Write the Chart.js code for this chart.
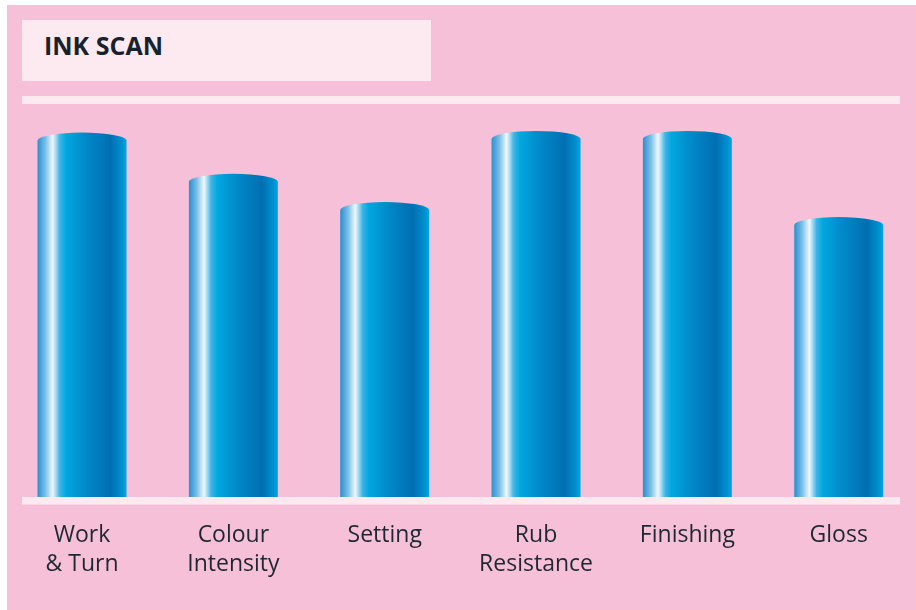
<!DOCTYPE html>
<html>
<head>
<meta charset="utf-8">
<script src="https://cdn.jsdelivr.net/npm/chart.js@4"></script>
<style>
  html, body { margin: 0; padding: 0; background: #ffffff; }
  #wrap { position: relative; width: 916px; height: 610px; overflow: hidden; }
  #panel { position: absolute; left: 7px; top: 5px; width: 909px; height: 605px; background: #f6c0d8; }
  #titleBox { position: absolute; left: 22px; top: 20px; width: 409px; height: 61px; background: #fdeaf1; }
  #titleBox span { position: absolute; left: 22px; top: 8px; font: bold 25px "Open Sans", sans-serif; color: #17232c; }
  #chartBox { position: absolute; left: 0; top: 0; width: 916px; height: 610px; }
</style>
</head>
<body>
<div id="wrap">
  <div id="panel"></div>
  <div id="titleBox"><span>INK SCAN</span></div>
  <div id="chartBox"><canvas id="inkChart" width="916" height="610"></canvas></div>
</div>
<script>
const categories = [["Work", "& Turn"], ["Colour", "Intensity"], "Setting", ["Rub", "Resistance"], "Finishing", "Gloss"]
const scores = [91.8, 81.4, 74.3, 92.2, 92.2, 70.5]
const scaleMax = 100

const lineColor = "#fdeaf1"

// pale rules at the top and bottom of the plot
const rulesPlugin = {
    id: "rules",
    beforeDatasetsDraw(chart) {
        const ctx = chart.ctx
        const y = chart.scales.y
        ctx.save()
        ctx.fillStyle = lineColor
        ctx.fillRect(22, y.getPixelForValue(scaleMax) - 4, 878, 8)
        ctx.restore()
    },
    afterDatasetsDraw(chart) {
        const ctx = chart.ctx
        const y = chart.scales.y
        ctx.save()
        ctx.fillStyle = lineColor
        ctx.fillRect(22, y.getPixelForValue(0), 878, 7.5)
        ctx.restore()
    }
}

// draw each bar as a shiny cylinder
const cylinderPlugin = {
    id: "cylinders",
    afterDatasetsDraw(chart) {
        const ctx = chart.ctx
        const meta = chart.getDatasetMeta(0)
        meta.data.forEach(bar => {
            const left = bar.x - bar.width / 2
            const right = bar.x + bar.width / 2
            const ry = 8
            const g = ctx.createLinearGradient(left, 0, right, 0)
            g.addColorStop(0, "#2a8fd0")
            g.addColorStop(0.09, "#7cc0e8")
            g.addColorStop(0.17, "#f0f8fd")
            g.addColorStop(0.25, "#40b4e6")
            g.addColorStop(0.32, "#00a8e0")
            g.addColorStop(0.55, "#0088c8")
            g.addColorStop(0.82, "#006fb2")
            g.addColorStop(0.95, "#0090d0")
            g.addColorStop(1, "#00a8e4")
            ctx.save()
            ctx.beginPath()
            ctx.moveTo(left, bar.base)
            ctx.lineTo(left, bar.y + ry)
            ctx.ellipse(bar.x, bar.y + ry, bar.width / 2, ry, 0, Math.PI, 2 * Math.PI)
            ctx.lineTo(right, bar.base)
            ctx.closePath()
            ctx.fillStyle = g
            ctx.fill()
            ctx.restore()
        })
    }
}

const ctx = document.getElementById("inkChart")
const inkChart = new Chart(ctx, {
    type: "bar",
    data: {
        labels: categories,
        datasets: [{
            label: "Ink scan",
            data: scores,
            backgroundColor: "rgba(0,0,0,0)",
            borderWidth: 0,
            categoryPercentage: 1,
            barPercentage: 0.588
        }]
    },
    options: {
        responsive: false,
        animation: false,
        layout: { padding: { top: 100, left: 6.35, right: 1.6, bottom: 0 } },
        plugins: {
            legend: { display: false },
            tooltip: { enabled: false }
        },
        scales: {
            y: {
                display: false,
                min: 0,
                max: scaleMax
            },
            x: {
                grid: { display: false, drawTicks: false },
                border: { display: false },
                ticks: {
                    color: "#1e2830",
                    font: { family: "'Open Sans', sans-serif", size: 23, lineHeight: 1.26 },
                    padding: 24,
                    maxRotation: 0,
                    autoSkip: false
                },
                afterFit(scale) { scale.height = 113 }
            }
        }
    },
    plugins: [rulesPlugin, cylinderPlugin]
})
</script>
</body>
</html>
